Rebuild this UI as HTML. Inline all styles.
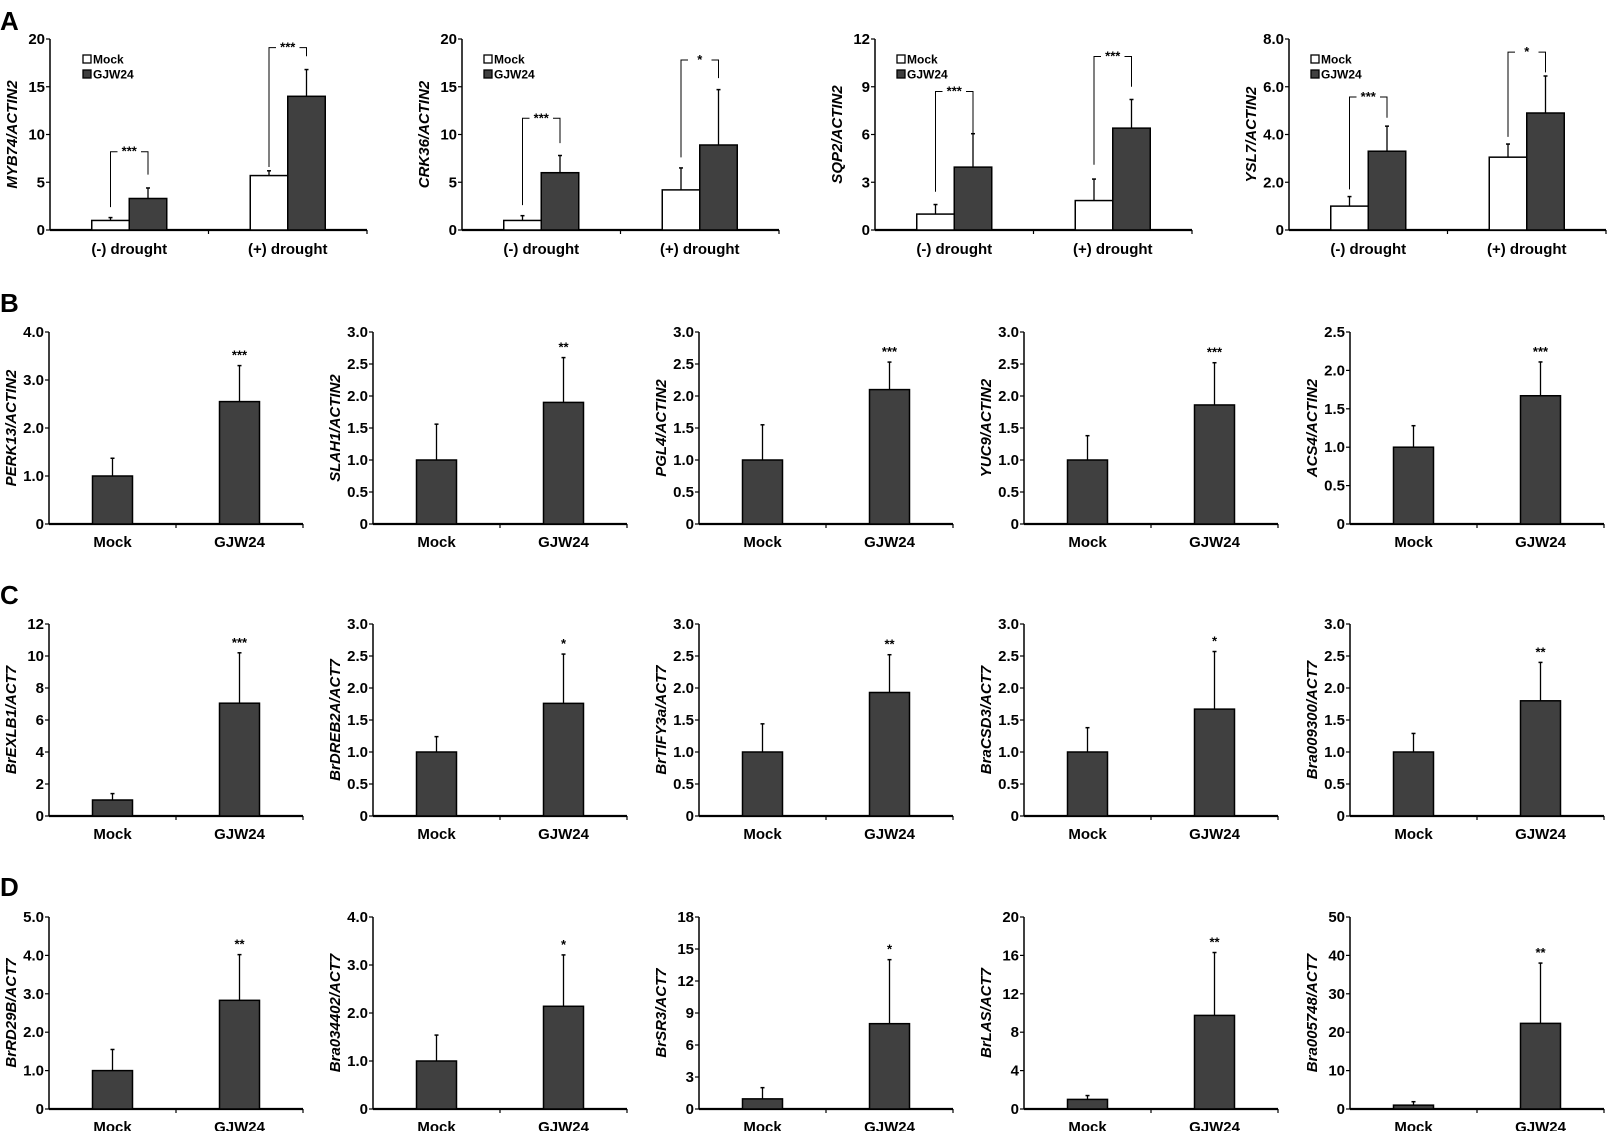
<!DOCTYPE html>
<html><head><meta charset="utf-8"><style>
html,body{margin:0;padding:0;background:#fff;}
svg{display:block;font-family:"Liberation Sans",Arial,sans-serif;}
</style></head><body>
<svg id="fig" width="1607" height="1131" viewBox="0 0 1607 1131" xmlns="http://www.w3.org/2000/svg"></svg>
<script>
// ---- Row A data (two-group charts) ----
const aTitles = ["MYB74/ACTIN2","CRK36/ACTIN2","SQP2/ACTIN2","YSL7/ACTIN2"];
const aCategories = ["(-) drought","(+) drought"];
const aYMax = [20,20,12,8];
const aTickLabels = [["0","5","10","15","20"],["0","5","10","15","20"],["0","3","6","9","12"],["0","2.0","4.0","6.0","8.0"]];
const aMock = [[1.0,5.7],[1.0,4.2],[1.0,1.85],[1.0,3.05]];
const aMockErr = [[1.3,6.2],[1.5,6.5],[1.6,3.2],[1.4,3.6]];
const aGjw = [[3.3,14.0],[6.0,8.9],[3.95,6.4],[3.3,4.9]];
const aGjwErr = [[4.4,16.8],[7.8,14.7],[6.05,8.2],[4.35,6.45]];
const aSig = [["***","***"],["***","*"],["***","***"],["***","*"]];
const aBracketTop = [[8.2,19.1],[11.7,17.8],[8.7,10.9],[5.57,7.45]];
const aBracketLeft = [[2.4,6.6],[2.6,7.6],[2.4,4.1],[1.7,3.9]];
const aBracketRight = [[5.8,18.2],[9.1,15.9],[4.7,9.0],[4.7,6.6]];

// ---- Rows B-D data (Mock vs GJW24) ----
const rowLetters = ["B","C","D"];
const categories = ["Mock","GJW24"];
const titles = [
 ["PERK13/ACTIN2","SLAH1/ACTIN2","PGL4/ACTIN2","YUC9/ACTIN2","ACS4/ACTIN2"],
 ["BrEXLB1/ACT7","BrDREB2A/ACT7","BrTIFY3a/ACT7","BraCSD3/ACT7","Bra009300/ACT7"],
 ["BrRD29B/ACT7","Bra034402/ACT7","BrSR3/ACT7","BrLAS/ACT7","Bra005748/ACT7"]];
const yMax = [[4,3,3,3,2.5],[12,3,3,3,3],[5,4,18,20,50]];
const tickLabels = [
 [["0","1.0","2.0","3.0","4.0"],["0","0.5","1.0","1.5","2.0","2.5","3.0"],["0","0.5","1.0","1.5","2.0","2.5","3.0"],["0","0.5","1.0","1.5","2.0","2.5","3.0"],["0","0.5","1.0","1.5","2.0","2.5"]],
 [["0","2","4","6","8","10","12"],["0","0.5","1.0","1.5","2.0","2.5","3.0"],["0","0.5","1.0","1.5","2.0","2.5","3.0"],["0","0.5","1.0","1.5","2.0","2.5","3.0"],["0","0.5","1.0","1.5","2.0","2.5","3.0"]],
 [["0","1.0","2.0","3.0","4.0","5.0"],["0","1.0","2.0","3.0","4.0"],["0","3","6","9","12","15","18"],["0","4","8","12","16","20"],["0","10","20","30","40","50"]]];
const mockValues = [[1.0,1.0,1.0,1.0,1.0],[1.0,1.0,1.0,1.0,1.0],[1.0,1.0,0.95,1.0,1.0]];
const mockErrors = [[1.37,1.56,1.55,1.38,1.28],[1.4,1.24,1.44,1.38,1.29],[1.55,1.54,2.0,1.4,1.9]];
const gjwValues = [[2.55,1.9,2.1,1.86,1.67],[7.05,1.76,1.93,1.67,1.8],[2.83,2.14,8.0,9.75,22.3]];
const gjwErrors = [[3.3,2.6,2.53,2.52,2.11],[10.2,2.53,2.52,2.57,2.4],[4.02,3.21,14.0,16.3,38.0]];
const sigLabels = [["***","**","***","***","***"],["***","*","**","*","**"],["**","*","*","**","**"]];

const NS="http://www.w3.org/2000/svg";
const svg=document.getElementById('fig');
function mk(tag,attrs,parent){const e=document.createElementNS(NS,tag);for(const k in attrs)e.setAttribute(k,attrs[k]);(parent||svg).appendChild(e);return e;}
function txt(s,attrs,parent){const e=mk('text',attrs,parent);e.textContent=s;return e;}

const letters=[["A",21],["B",303],["C",595],["D",887]];
letters.forEach(l=>{
  const t=txt(l[0],{x:0,y:l[1]+9,'font-size':26,'font-weight':'bold'});
  
  
});

function axes(g,x0,top,bot,w,ticks,title){
  const yl=mk('line',{x1:x0,y1:top,x2:x0,y2:bot,stroke:'#000','stroke-width':1.5},g);
  
  
  const n=ticks.length-1;
  ticks.forEach((lab,i)=>{
    const y=bot-(bot-top)*i/n;
    mk('line',{x1:x0-4,y1:y,x2:x0,y2:y,stroke:'#000','stroke-width':1.2},g);
    const t=txt(lab,{x:x0-5,y:y+5,'text-anchor':'end','font-size':15,'font-weight':'bold'},g);
    
    
  });
  const xl=mk('line',{x1:x0,y1:bot,x2:x0+w,y2:bot,stroke:'#000','stroke-width':2.2},g);
  
  
  [x0+w/2,x0+w].forEach(x=>mk('line',{x1:x,y1:bot,x2:x,y2:bot+4,stroke:'#000','stroke-width':1.2},g));
  const cy=(top+bot)/2, cx=x0-38;
  const tt=txt(title,{x:cx,y:cy+5,'text-anchor':'middle','font-size':15,'font-weight':'bold','font-style':'italic',transform:`rotate(-90 ${cx} ${cy})`},g);
  
  
}
function bar(g,x,w,yv,yb,fill,name){
  const r=mk('rect',{x:x,y:yv,width:w,height:Math.max(0,yb-yv),fill:fill,stroke:'#000','stroke-width':1.5},g);
  
  
}
function err(g,cx,y1,y2){
  const e=mk('line',{x1:cx,y1:y1,x2:cx,y2:y2,stroke:'#000','stroke-width':1.3},g);
  
  
  mk('line',{x1:cx-2,y1:y2,x2:cx+2,y2:y2,stroke:'#000','stroke-width':1.5},g);
}

// Row A
const aX=[50,462,875,1289], aTop=39, aBot=230, aW=317;
aTitles.forEach((title,p)=>{
  const g=mk('g',{});
  
  
  const x0=aX[p], ys=v=>aBot-(aBot-aTop)*v/aYMax[p];
  axes(g,x0,aTop,aBot,aW,aTickLabels[p],title);
  const bw=37.5;
  aCategories.forEach((cat,i)=>{
    const c=x0+aW/4+i*aW/2;
    err(g,c-bw/2,ys(aMock[p][i]),ys(aMockErr[p][i]));
    err(g,c+bw/2,ys(aGjw[p][i]),ys(aGjwErr[p][i]));
    bar(g,c-bw,bw,ys(aMock[p][i]),aBot,'#fff','bar-mock-'+(i+1));
    bar(g,c,bw,ys(aGjw[p][i]),aBot,'#404040','bar-gjw24-'+(i+1));
    const lx=c-bw/2, rx=c+bw/2, ty=ys(aBracketTop[p][i]);
    const br=mk('path',{d:`M${lx},${ys(aBracketLeft[p][i])}V${ty}H${lx+7}M${rx-7},${ty}H${rx}V${ys(aBracketRight[p][i])}`,fill:'none',stroke:'#000','stroke-width':1},g);
    
    
    const s=txt(aSig[p][i],{x:c,y:ty+4,'text-anchor':'middle','font-size':13,'font-weight':'bold'},g);
    
    
    const cl=txt(cat,{x:c,y:aBot+24,'text-anchor':'middle','font-size':15,'font-weight':'bold'},g);
    
    
  });
  const lg=mk('g',{},g);
  
  
  const lx=x0+(p===0?33:22);
  mk('rect',{x:lx,y:55,width:8,height:8,fill:'#fff',stroke:'#000','stroke-width':1.3},lg);
  const m=txt('Mock',{x:lx+10,y:63.5,'font-size':12,'font-weight':'bold'},lg);
  
  
  mk('rect',{x:lx,y:70,width:8,height:8,fill:'#404040',stroke:'#000','stroke-width':1.3},lg);
  const gj=txt('GJW24',{x:lx+10,y:78.5,'font-size':12,'font-weight':'bold'},lg);
  
  
});

// Rows B-D
const bX=[49,373,699,1024,1350], rTop=[332,624,917], rBot=[524,816,1109], bW=254;
rowLetters.forEach((L,r)=>{
  titles[r].forEach((title,p)=>{
    const g=mk('g',{});
    
    
    const x0=bX[p], top=rTop[r], bot=rBot[r];
    const ys=v=>bot-(bot-top)*v/yMax[r][p];
    axes(g,x0,top,bot,bW,tickLabels[r][p],title);
    const vals=[mockValues[r][p],gjwValues[r][p]], errs=[mockErrors[r][p],gjwErrors[r][p]];
    categories.forEach((cat,i)=>{
      const c=x0+bW/4+i*bW/2;
      err(g,c,ys(vals[i]),ys(errs[i]));
      bar(g,c-20,40,ys(vals[i]),bot,'#404040','bar-'+cat.toLowerCase());
      const cl=txt(cat,{x:c,y:bot+23,'text-anchor':'middle','font-size':15,'font-weight':'bold'},g);
      
      
    });
    const s=txt(sigLabels[r][p],{x:x0+bW*3/4,y:ys(errs[1])-6,'text-anchor':'middle','font-size':13,'font-weight':'bold'},g);
    
    
  });
});
</script>
</body></html>
